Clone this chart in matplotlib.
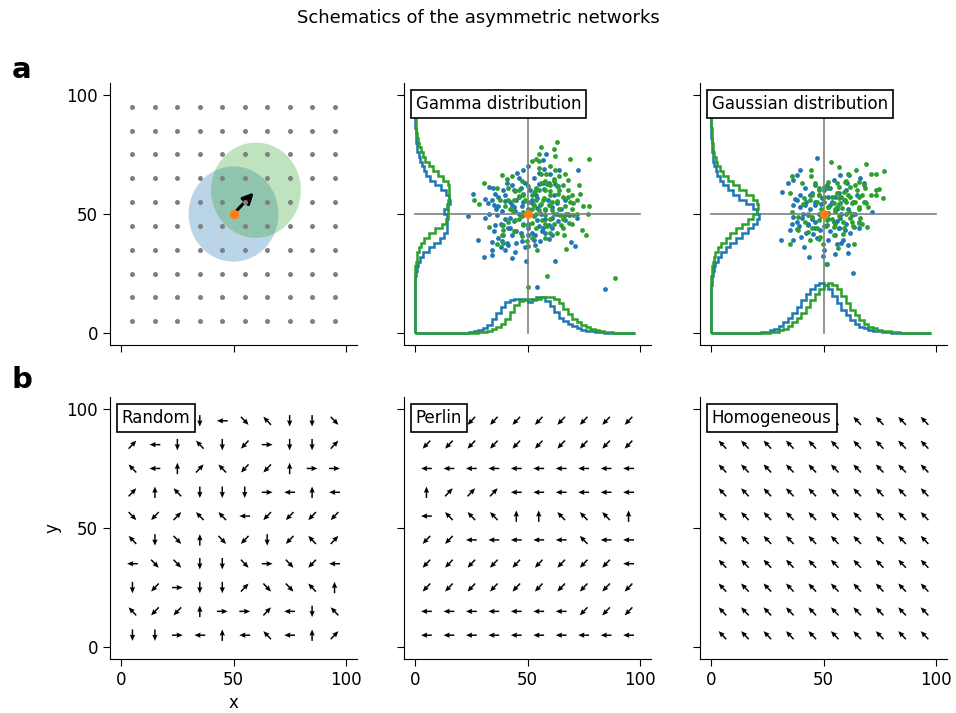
import numpy as np
import matplotlib
matplotlib.use('Agg')
import matplotlib.pyplot as plt
from matplotlib.patches import Ellipse
from matplotlib.offsetbox import AnchoredText

plt.rcParams['font.family'] = ['DejaVu Sans']
plt.rcParams['font.size'] = 12

# ---------------- data ----------------
grid_pos = [5, 15, 25, 35, 45, 55, 65, 75, 85, 95]
center = (50, 50)
shifted_center = (60, 60)
radius = 20
arrow_tip = (59, 59)

# histogram bin edges (0..98, width 2)
hist_edges = list(range(0, 100, 2))

gamma_blue_hist = [0, 0, 0, 0, 0, 0, 0, 0, 0, 0,
                   0.05, 0.1, 0.3, 0.7, 1.3, 2.2, 3.5, 6, 8.5, 11, 13, 14, 14.3, 14.3, 14, 13,
                   14.5, 15.3, 15, 13.5, 11.5, 9, 6.5, 5, 3.8, 2.8, 2, 1.5, 1.0, 0.7, 0.4, 0.3,
                   0.2, 0.1, 0.05, 0, 0, 0, 0]
gamma_green_hist = [0, 0, 0, 0, 0, 0, 0, 0, 0, 0, 0, 0,
                    0.05, 0.1, 0.3, 0.6, 1.0, 1.6, 2.5, 4, 6, 9, 12, 13.5, 14.5, 14.5, 14, 14.5,
                    15, 15.2, 15, 14.5, 12.5, 10, 8, 6, 4.5, 3.3, 2.4, 1.6, 1.1, 0.7, 0.5, 0.3,
                    0.2, 0.1, 0.05, 0, 0]
gauss_blue_hist = [0, 0, 0, 0, 0, 0, 0, 0,
                   0.05, 0.1, 0.2, 0.35, 0.6, 1.1, 1.8, 3, 4.5, 6.5, 8.5, 11, 13.7, 16.3, 18.5,
                   20.3, 21.2, 20.3, 18.5, 15.5, 12.5, 9.8, 7.5, 5.3, 3.8, 2.7, 2.0, 1.4, 1.0,
                   0.7, 0.45, 0.3, 0.2, 0.1, 0.05,
                   0, 0, 0, 0, 0, 0]
gauss_green_hist = [0, 0, 0, 0, 0, 0, 0, 0, 0, 0,
                    0.05, 0.1, 0.2, 0.35, 0.6, 1.1, 1.8, 3, 4.5, 6.5, 8.5, 11, 13.7, 16.3, 18.5,
                    20.3, 21, 20.3, 18.5, 15.5, 12.5, 9.8, 7.5, 5.3, 3.8, 2.7, 2.0, 1.4, 1.0,
                    0.7, 0.45, 0.3, 0.2, 0.1, 0.05,
                    0, 0, 0, 0]

gamma_blue_x = [25.8, 31.0, 23.6, 28.1, 30.7, 34.0, 34.3, 34.0, 38.5, 43.3, 44.5, 49.3, 54.2, 62.1,
                84.3, 71.3, 69.3, 72.3, 64.1, 58.2, 56.7, 57.2, 50.1, 48.2, 45.2, 33.0, 35.5, 35.2,
                31.0, 36.3, 38.5, 40.0, 43.0, 45.0, 48.2, 52.7, 54.2, 55.7, 57.9, 60.9, 63.8, 66.8,
                72.0, 68.3, 59.4, 56.4, 53.4, 59.4, 60.9, 41.5, 38.5, 35.5, 39.3, 43.0, 45.0, 47.5,
                41.5, 40.0, 50.4, 53.4, 55.7, 62.4, 63.8, 59.4, 54.9, 57.2, 51.9, 47.5, 44.5, 42.2,
                54.2, 50.4, 63.1, 66.8, 34.8, 37.0, 32.6, 54.9, 60.1, 54.2,
                40, 42, 44, 46, 48, 50, 52, 46, 44, 42, 40, 38, 36, 48, 50, 52, 55, 57, 58, 56,
                54, 51, 49, 47, 43, 41, 39, 37, 34, 33, 35, 37, 41, 45, 49, 53, 58, 61, 63, 61,
                59, 57, 53, 46, 62, 65, 67, 47, 44, 38]
gamma_blue_y = [58.2, 56.3, 49.3, 39.2, 32.1, 32.6, 35.0, 38.2, 38.5, 31.4, 34.0, 30.3, 19.2, 30.3,
                18.4, 36.4, 38.2, 68.3, 68.3, 75.3, 72.5, 69.0, 70.1, 68.3, 67.2, 61.3, 58.2, 53.9,
                48.3, 49.7, 51.1, 55.3, 53.9, 56.0, 58.2, 58.9, 56.8, 53.9, 51.8, 48.3, 46.9, 47.6,
                48.3, 49.7, 45.5, 42.7, 41.3, 39.6, 41.3, 44.1, 45.5, 45.5, 41.3, 41.3, 42.7, 38.5,
                37.1, 35.0, 41.3, 37.1, 38.5, 62.4, 61.7, 63.1, 62.4, 60.3, 54.6, 53.2, 51.1, 48.3,
                47.6, 45.5, 54.6, 56.0, 61.0, 53.2, 54.6, 67.3, 66.6, 52.5,
                58, 55, 60, 57, 55, 52, 56, 50, 47, 44, 48, 46, 52, 46, 44, 42, 45, 44, 48, 50,
                58, 60, 63, 61, 62, 63, 60, 57, 56, 50, 43, 40, 38, 38, 36, 39, 42, 44, 50, 53,
                56, 63, 65, 65, 58, 52, 50, 42, 53, 36]
gamma_green_x = [63.1, 56.1, 61.6, 62.4, 55.2, 69.0, 77.2, 53.9, 51.9, 55.2, 58.2, 62.4, 66.5, 68.0,
                 61.6, 58.6, 60.1, 63.8, 68.0, 73.2, 70.2, 74.9, 77.2, 76.9, 70.1, 66.8, 64.6, 65.0,
                 68.3, 74.3, 76.2, 66.1, 67.1, 60.1, 58.6, 56.4, 59.4, 57.2, 53.4, 50.4, 47.5, 43.0,
                 38.5, 40.8, 30.8, 36.3, 41.5, 44.5, 46.0, 49.0, 41.5, 26.2, 28.5, 37.8, 40.0, 43.7,
                 47.5, 52.7, 51.9, 48.2, 44.5, 41.5, 39.3, 33.0, 39.3, 38.5, 44.5, 47.5, 49.9, 39.3,
                 36.3, 54.2, 57.9, 50.4, 58.5, 50.1, 89.1, 54.9, 63.1, 60.9, 54.9, 52.7, 57.9, 63.1,
                 66.1,
                 52, 54, 56, 58, 60, 62, 64, 66, 68, 70, 72, 70, 68, 66, 64, 62, 60, 58, 56, 54,
                 52, 50, 48, 46, 44, 42, 46, 50, 54, 58, 62, 66, 70, 72, 60, 58, 56, 60, 64, 66,
                 54, 48, 44, 52, 63, 57, 55, 61, 69, 73]
gamma_green_y = [80.4, 78.1, 77.1, 74.3, 75.3, 73.3, 73.3, 73.3, 72.2, 69.4, 66.6, 68.3, 66.9, 64.1,
                 64.5, 62.4, 59.6, 58.2, 57.0, 58.2, 54.6, 53.2, 53.2, 50.0, 49.7, 53.2, 49.7, 45.5,
                 46.2, 43.1, 41.3, 41.3, 35.2, 42.0, 44.8, 47.6, 53.9, 56.8, 59.6, 61.7, 63.8, 65.9,
                 66.3, 64.5, 63.1, 61.0, 61.0, 59.6, 57.5, 56.0, 55.8, 56.0, 54.2, 56.0, 53.2, 51.1,
                 49.0, 49.0, 46.2, 45.5, 47.6, 46.6, 45.2, 44.4, 43.4, 41.3, 42.7, 40.6, 38.5, 37.8,
                 37.3, 35.0, 39.9, 36.4, 24.1, 19.2, 23.3, 72.2, 55.3, 51.8, 51.8, 53.9, 49.7, 61.7,
                 49.0,
                 58, 61, 63, 60, 62, 64, 60, 62, 60, 58, 56, 52, 50, 48, 52, 50, 48, 52, 54, 56,
                 52, 55, 58, 60, 56, 52, 48, 46, 44, 46, 46, 44, 46, 50, 58, 64, 67, 70, 66, 57,
                 50, 51, 43, 40, 42, 56, 60, 55, 55, 62]

gauss_blue_x = [47.3, 39.6, 38.1, 36.6, 31.7, 37.1, 39.6, 41.8, 44.8, 36.6, 39.6, 41.8, 36.2, 38.1,
                40.3, 43.3, 46.3, 48.5, 51.5, 54.5, 56.7, 59.7, 63.4, 65.6, 65.6, 71.6, 68.6, 64.9,
                67.9, 66.4, 61.2, 57.4, 54.5, 51.5, 60.4, 55.2, 46.3, 49.3, 31.1, 36.6, 39.9, 35.3,
                41.1, 43.6, 49.7, 55.9, 58.9, 60.7, 60.9, 54.9, 63.1, 51.5, 45.5, 43.3, 52.2, 57.4,
                62.6, 53.0, 57.4, 34.4,
                42, 44, 46, 48, 50, 52, 54, 56, 58, 56, 52, 48, 45, 43, 46, 50, 53, 57, 60, 61,
                59, 57, 53, 49, 44, 41, 39, 42, 47, 52, 55, 62, 64, 63, 60, 46, 38, 36, 50, 58]
gauss_blue_y = [73.5, 68.6, 66.5, 64.3, 59.1, 56.2, 58.0, 60.8, 58.7, 53.8, 53.1, 53.8, 48.9, 46.8,
                48.2, 45.4, 46.8, 43.2, 45.4, 46.8, 44.0, 43.2, 44.7, 44.0, 46.8, 51.0, 55.2, 58.0,
                62.9, 65.0, 66.5, 66.5, 64.3, 62.2, 62.9, 57.3, 53.8, 56.6, 39.0, 39.0, 40.2, 43.2,
                36.2, 32.0, 32.3, 37.6, 39.0, 36.9, 33.8, 33.1, 25.4, 29.2, 41.8, 49.6, 50.3, 48.2,
                49.6, 53.8, 54.5, 62.9,
                55, 52, 55, 58, 60, 57, 55, 52, 50, 47, 48, 50, 48, 46, 44, 45, 43, 44, 46, 52,
                56, 59, 61, 54, 58, 50, 45, 42, 40, 39, 41, 42, 50, 55, 60, 62, 56, 46, 35, 38]
gauss_green_x = [53.4, 57.1, 69.0, 64.5, 60.9, 71.1, 73.4, 76.8, 44.5, 44.5, 35.9, 40.6, 46.3, 50.0,
                 52.2, 56.7, 59.0, 62.0, 65.6, 68.6, 73.2, 74.7, 76.4, 73.2, 68.8, 65.6, 62.6, 59.7,
                 56.7, 54.5, 58.2, 61.2, 55.2, 52.2, 47.8, 44.0, 41.1, 35.1, 35.9, 38.8, 41.8, 44.8,
                 47.8, 51.5, 54.5, 58.9, 62.6, 66.4, 69.3, 65.6, 38.8, 38.1, 43.3, 48.5, 44.8, 54.5,
                 58.6, 35.1, 47.8, 56.4, 63.4, 49.6, 51.2, 44.0, 61.9, 56.0, 50.0, 67.1, 59.7, 47.8,
                 50, 52, 54, 56, 58, 60, 62, 64, 66, 68, 70, 66, 63, 60, 57, 55, 52, 49, 47, 45,
                 48, 52, 56, 60, 64, 68, 71, 67, 63, 59, 55, 51, 47, 43, 41, 57, 61, 65, 54, 49]
gauss_green_y = [71.7, 69.7, 71.1, 68.6, 66.9, 66.9, 66.9, 67.9, 68.6, 66.0, 65.8, 62.9, 62.9, 61.5,
                 63.6, 61.5, 59.4, 61.5, 63.6, 60.8, 60.1, 60.4, 56.6, 58.0, 54.5, 53.1, 54.5, 55.9,
                 56.6, 54.5, 52.4, 51.0, 51.0, 53.1, 58.0, 55.9, 56.6, 58.7, 51.0, 48.9, 46.8, 48.9,
                 47.5, 47.5, 44.7, 46.8, 46.8, 48.2, 44.4, 46.1, 43.2, 43.9, 42.5, 40.4, 44.0, 41.1,
                 41.8, 37.6, 39.7, 35.9, 37.2, 37.3, 28.9, 39.0, 48.2, 53.1, 57.3, 58.0, 63.6, 60.8,
                 55, 53, 57, 59, 57, 55, 57, 55, 57, 55, 53, 52, 50, 50, 49, 52, 50, 52, 55, 58,
                 60, 61, 63, 64, 62, 62, 58, 46, 45, 44, 46, 45, 44, 50, 54, 54, 58, 60, 48, 49]

# arrow directions, rows from top (y=95) to bottom (y=5), columns x=5..95
random_dirs = ["E N SW S W SE NW S S SE",
               "NE W S NW S SW E S S NE",
               "NW W N NE NW SW SW N E E",
               "NE N NW S S S E W N W",
               "SE SW NE NW NW W SW SW SW SW",
               "NW S SE N SE SW S SW NW NE",
               "W SE SE S S SE E SE SW W",
               "S SW E S S NE SE SE NW N",
               "NW SW SW N E E NE W S NW",
               "S S E W N W NW W N NE"]
perlin_dirs = ["SW SW SW SW SW SW SW SW SW SW",
               "SW SW SW SW SW SW SW SW SW SW",
               "W W W W W W W W W W",
               "N NE NE NE W W W W W W",
               "W NW NW NW N N NW NW NW N",
               "SW SW W W W W W NW W W",
               "SW SW SW SW SW SW SW SW SW W",
               "SW SW SW SW SW SW SW SW SW SW",
               "W W W W W W W SW SW SW",
               "W W W W W W W W W W"]
homog_dirs = ["NW NW NW NW NW NW NW NW NW NW"] * 10

compass = {"E": 0, "NE": 45, "N": 90, "NW": 135, "W": 180, "SW": 225, "S": 270, "SE": 315}

titles_top = ["Gamma distribution", "Gaussian distribution"]
titles_bottom = ["Random", "Perlin", "Homogeneous"]

# ---------------- figure ----------------
fig = plt.figure(figsize=(9.56, 7.13), dpi=100)
W, H = 956, 713
lefts = [110, 404, 700]
aw = 247
row_tops = [83, 397]
ah = 262

axes = [[None] * 3 for _ in range(2)]
for r in range(2):
    for c in range(3):
        ax = fig.add_axes([lefts[c] / W, 1 - (row_tops[r] + ah) / H, aw / W, ah / H])
        ax.set_xlim(-5, 105)
        ax.set_ylim(-5, 105)
        ax.set_xticks([0, 50, 100])
        ax.set_yticks([0, 50, 100])
        ax.spines['top'].set_visible(False)
        ax.spines['right'].set_visible(False)
        ax.tick_params(labelsize=12, length=5)
        if r == 0:
            ax.set_xticklabels([])
        if c > 0:
            ax.set_yticklabels([])
        axes[r][c] = ax

def label_box(ax, text):
    at = AnchoredText(text, loc='upper left', prop=dict(size=12), frameon=True,
                      pad=0.3, borderpad=0.4)
    at.patch.set_boxstyle('square,pad=0')
    at.patch.set_edgecolor('black')
    at.patch.set_linewidth(1.2)
    at.set_zorder(10)
    ax.add_artist(at)

gx, gy = np.meshgrid(grid_pos, grid_pos)

# panel a1
ax = axes[0][0]
ax.add_patch(Ellipse(center, 2 * radius, 2 * radius, color='tab:blue', alpha=0.3, lw=0, zorder=1))
ax.add_patch(Ellipse(shifted_center, 2 * radius, 2 * radius, color='tab:green', alpha=0.3, lw=0, zorder=1))
ax.annotate('', xy=arrow_tip, xytext=center,
            arrowprops=dict(arrowstyle='-|>', color='black', lw=2.2, mutation_scale=16,
                            shrinkA=0, shrinkB=0), zorder=2)
ax.scatter(gx.ravel(), gy.ravel(), s=13, color='gray', lw=0, zorder=3)
ax.scatter([center[0]], [center[1]], s=45, color='tab:orange', lw=0, zorder=4)

# panels a2, a3
panels = [(gamma_blue_x, gamma_blue_y, gamma_green_x, gamma_green_y, gamma_blue_hist, gamma_green_hist),
          (gauss_blue_x, gauss_blue_y, gauss_green_x, gauss_green_y, gauss_blue_hist, gauss_green_hist)]
edges = hist_edges
for i, (bx, by, gx_, gy_, bh, gh) in enumerate(panels):
    ax = axes[0][i + 1]
    ax.scatter(bx, by, s=12, color='tab:blue', lw=0, zorder=2)
    ax.scatter(gx_, gy_, s=12, color='tab:green', lw=0, zorder=2.1)
    ax.plot([0, 100], [center[1], center[1]], color='gray', lw=1.2, zorder=2.5)
    ax.plot([center[0], center[0]], [0, 100], color='gray', lw=1.2, zorder=2.5)
    ax.stairs(bh, edges, color='tab:blue', lw=1.8, zorder=3)
    ax.stairs(gh, edges, color='tab:green', lw=1.8, zorder=3.1)
    ax.stairs(bh, edges, orientation='horizontal', color='tab:blue', lw=1.8, zorder=3)
    ax.stairs(gh, edges, orientation='horizontal', color='tab:green', lw=1.8, zorder=3.1)
    ax.scatter([center[0]], [center[1]], s=40, color='tab:orange', lw=0, zorder=4)
    label_box(ax, titles_top[i])

# bottom row
for c, dirs in enumerate([random_dirs, perlin_dirs, homog_dirs]):
    ax = axes[1][c]
    X, Y, U, V = [], [], [], []
    for ri, row in enumerate(dirs):
        yv = grid_pos[::-1][ri]
        for ci, d in enumerate(row.split()):
            a = np.deg2rad(compass[d])
            X.append(grid_pos[ci]); Y.append(yv)
            U.append(np.cos(a)); V.append(np.sin(a))
    ax.quiver(X, Y, np.array(U) * 4.8, np.array(V) * 4.8, angles='xy', scale_units='xy', scale=1,
              pivot='mid', width=0.006, headwidth=3.6, headlength=4.2, headaxislength=3.8,
              color='black')
    label_box(ax, titles_bottom[c])

axes[1][0].set_xlabel('x', fontsize=12)
axes[1][0].set_ylabel('y', fontsize=12)

fig.suptitle('Schematics of the asymmetric networks', fontsize=13, y=1 - 18 / H, va='center')
fig.text(12 / W, 1 - 70 / H, 'a', fontsize=21, fontweight='bold', va='center', ha='left')
fig.text(12 / W, 1 - 380 / H, 'b', fontsize=21, fontweight='bold', va='center', ha='left')

fig.savefig('out.png', dpi=100)
